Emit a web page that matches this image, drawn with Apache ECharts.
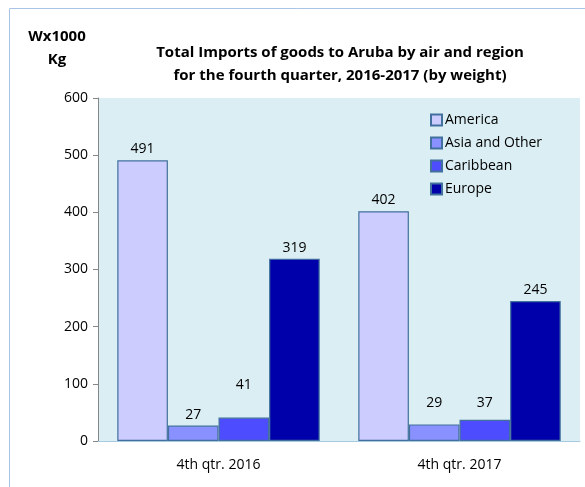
<!DOCTYPE html>
<html><head><meta charset="utf-8">
<script src="https://cdn.jsdelivr.net/npm/echarts@6/dist/echarts.min.js"></script>
<style>html,body{margin:0;padding:0;background:#fff}#c{width:585px;height:487px}</style>
</head><body><div id="c"></div>
<script>
const categories = ['4th qtr. 2016', '4th qtr. 2017'];
const seriesNames = ['America', 'Asia and Other', 'Caribbean', 'Europe'];
const america = [491, 402];
const asiaOther = [27, 29];
const caribbean = [41, 37];
const europe = [319, 245];
const yTicks = [0, 100, 200, 300, 400, 500, 600];

const colors = ['#ccccff', '#8891ff', '#4d4dff', '#0000aa'];
const labelOffsets = [[0, 0], [[0, 0], [0, -10]], [[0, -22], [0, -6]], [0, 0]];
const values = [america, asiaOther, caribbean, europe];

const chart = echarts.init(document.getElementById('c'));
const font = '"Open Sans", Liberation Sans, Arial, sans-serif';
const series = seriesNames.map((n, i) => ({
  name: n, type: 'bar',
  barGap: '0%', barCategoryGap: '16%',
  itemStyle: { color: colors[i], borderColor: '#41719c', borderWidth: 1.2 },
  data: values[i].map((v, j) => {
    const off = Array.isArray(labelOffsets[i][0]) ? labelOffsets[i][j] : labelOffsets[i];
    return { value: v, label: { offset: off } };
  }),
  label: { show: true, position: 'top', distance: 4, color: '#000', fontSize: 14, fontFamily: font }
}));

chart.setOption({
  animation: false,
  graphic: [
    { type: 'rect', shape: { x: 9.5, y: 8.5, width: 600, height: 500 }, style: { fill: 'none', stroke: '#a9c4e6', lineWidth: 1 }, silent: true },
    { type: 'text', x: 57, y: 25, style: { text: 'Wx1000\nKg', font: 'bold 15px ' + font, fill: '#000', align: 'center', lineHeight: 23 } },
    { type: 'text', x: 340, y: 41, style: { text: 'Total Imports of goods to Aruba by air and region\nfor the fourth quarter, 2016-2017 (by weight)', font: 'bold 15px ' + font, fill: '#000', align: 'center', lineHeight: 23 } }
  ],
  grid: { left: 98, right: 5, top: 98, bottom: 46, backgroundColor: '#dbeef4', show: true, borderWidth: 0 },
  legend: {
    orient: 'vertical', left: 425, top: 108, itemWidth: 11, itemHeight: 11, itemGap: 9,
    icon: 'rect',
    textStyle: { fontSize: 14, fontFamily: font, color: '#000', padding: [0, 0, 0, -2] },
    data: seriesNames
  },
  xAxis: {
    type: 'category', data: categories,
    axisLine: { lineStyle: { color: '#a6cbe0', width: 1 } },
    axisTick: { show: false },
    axisLabel: { color: '#000', fontSize: 14, fontFamily: font, margin: 17 }
  },
  yAxis: {
    type: 'value', min: yTicks[0], max: yTicks[yTicks.length - 1], interval: 100,
    axisLine: { show: true, lineStyle: { color: '#868686' } },
    axisTick: { show: true, length: 5, lineStyle: { color: '#868686' } },
    splitLine: { show: false },
    axisLabel: { color: '#000', fontSize: 14, fontFamily: font, margin: 10 }
  },
  series
});
</script></body></html>
